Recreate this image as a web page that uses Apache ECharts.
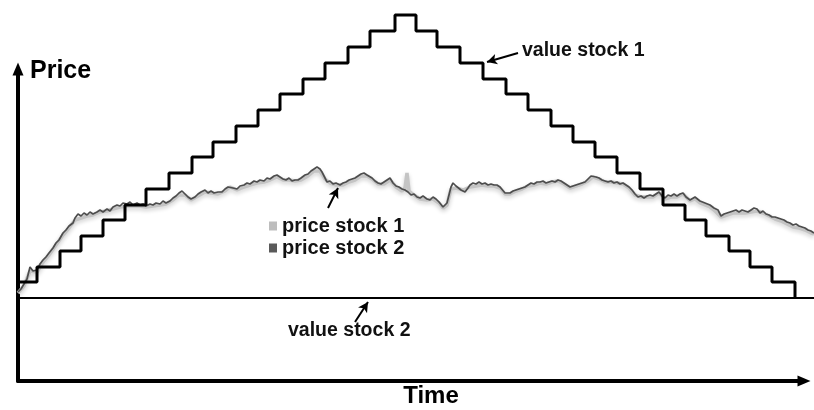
<!DOCTYPE html>
<html><head><meta charset="utf-8">
<script src="https://cdn.jsdelivr.net/npm/echarts@6/dist/echarts.min.js"></script>
<style>html,body{margin:0;padding:0;background:#fff}#c{width:814px;height:410px}</style>
</head><body><div id="c"></div>
<script>
// ---- data (time units, price units) ----
const stepTimes = [0,19,42,63,85,107,128,151,174,195,218,240,262,285,307,330,352,377,398,419,442,465,488,510,533,555,577,599,622,645,667,688,711,732,754,777];
const valueStock1 = [99,114,130,145,161,176,192,208,224,239,255,271,287,302,318,334,350,366,350,334,318,302,287,271,255,239,224,208,192,176,161,145,130,114,99,83];
const valueStock2Times = [0,796];
const valueStock2 = [83,83];

const priceTime2 = [0,3,6,9,12,15,19,22,25,28,31,35,38,41,45,48,51,55,57,60,63,66,69,72,75,79,82,85,89,92,95,99,102,105,109,112,115,119,122,125,128,132,
135,138,142,145,148,152,155,158,161,164,167,170,173,177,180,183,187,190,193,196,200,204,207,210,212,215,219,222,226,229,232,236,239,242,246,249,252,256,259,262,265,268,271,274,277,
280,283,287,290,293,296,299,302,304,307,309,312,315,318,322,325,328,331,334,337,340,343,346,349,351,354,357,360,363,366,369,372,375,378,381,384,387,390,393,396,399,402,405,409,412,415,418,
421,423,425,427,429,431,433,435,438,440,443,445,447,450,452,455,458,461,464,467,470,473,476,479,482,484,487,489,492,495,498,501,504,507,510,513,516,519,522,525,528,531,534,537,540,543,546,549,552,555,558,
561,564,567,570,573,575,578,581,584,587,590,593,596,599,602,605,608,611,614,617,620,623,626,629,632,635,638,641,644,647,650,653,656,659,662,665,668,672,677,682,687,692,696,
700,703,706,709,712,715,718,721,724,727,730,733,736,739,742,745,748,751,754,757,760,763,766,769,772,775,778,781,784,787,790,793,796];
const priceStock2 = [89,92,97,102,114,110,111,117,121,124,128,133,138,141,148,151,155,158,163,167,165,168,166,169,167,169,171,169,172,170,174,176,175,178,177,179,176,178,176,177,175,177,
176,178,177,180,178,180,183,185,188,190,187,184,182,184,187,189,191,188,190,188,189,189,192,194,196,193,192,195,196,198,197,200,199,201,200,203,202,205,206,204,202,201,203,200,201,
201,203,206,207,210,212,214,212,209,203,199,200,197,198,196,198,199,201,202,203,205,207,208,206,207,203,200,198,197,199,201,203,198,195,194,192,191,189,186,187,184,183,185,182,181,184,182,
179,177,174,176,178,186,194,198,195,193,191,193,189,193,196,198,197,199,197,198,196,197,196,196,194,193,188,186,188,190,191,192,193,194,196,198,197,199,199,200,198,199,200,199,201,200,198,196,194,195,196,
197,198,199,202,205,206,204,203,201,200,199,200,198,199,197,198,196,194,191,187,184,185,183,185,186,185,187,189,185,183,186,185,187,185,187,188,184,181,184,180,178,176,173,
171,165,167,168,169,170,171,169,171,170,169,171,173,172,168,170,167,166,164,164,163,162,161,159,158,156,157,155,154,153,151,150,148];

const priceTime1 = [0,6,12,19,25,31,38,45,51,57,63,69,75,82,89,95,102,109,115,122,128,135,142,148,155,161,167,173,180,187,193,200,207,212,219,226,232,239,246,252,259,265,271,277,283,290,296,302,307,312,318,325,331,337,343,349,354,360,366,372,378,384,387,389,391,396,402,409,415,421,425,429,433,438,445,452,458,464,470,476,482,487,492,498,504,510,516,522,528,534,540,546,552,558,564,570,575,581,587,593,599,605,611,617,623,629,635,641,647,653,659,665,672,677,682,687,692,696,703,709,715,721,727,733,739,745,751,757,763,769,775,781,787,793,796];
const priceStock1 = [88,95,110,109,119,126,136,146,153,161,163,165,166,169,170,172,174,175,175,175,174,175,176,177,181,186,186,181,185,189,188,187,190,194,191,194,196,198,199,201,204,201,201,200,201,205,210,210,202,198,196,196,199,201,205,205,202,197,197,201,194,190,193,208,190,186,182,181,182,178,173,176,192,193,191,194,195,196,195,195,193,187,187,190,192,195,196,198,197,199,200,197,193,195,197,200,204,202,199,199,198,197,193,186,184,184,184,188,182,184,184,187,180,182,178,176,174,171,164,166,168,168,168,169,170,168,165,162,160,157,154,153,151,148,147];

const seriesNames = ['price stock 1','price stock 2','value stock 1','value stock 2'];
// annotation arrows: [from, to] in data coordinates
const arrowFrom = [[500,328],[337,59],[310,173]];
const arrowTo   = [[469,319],[350,79],[320,193]];

// ---- chart ----
const F = '"Liberation Sans", Arial, Helvetica, sans-serif';
const pair = (ts, vs) => ts.map((t, i) => [t, vs[i]]);
const chart = echarts.init(document.getElementById('c'));
const hiddenAxis = {type:'value', show:false};
const arrowAxisLine = {show:true, onZero:false, symbol:['none','triangle'], symbolSize:[11,13], lineStyle:{color:'#000', width:4}};
chart.setOption({
  animation:false,
  backgroundColor:'#fff',
  grid:[{left:18,right:0,top:10,bottom:29},{left:18,right:10,top:69,bottom:29}],
  xAxis:[
    Object.assign({gridIndex:0, min:0, max:796}, hiddenAxis),
    {type:'value', gridIndex:1, min:0, max:1, axisLine:arrowAxisLine, axisTick:{show:false}, axisLabel:{show:false}, splitLine:{show:false}}
  ],
  yAxis:[
    Object.assign({gridIndex:0, min:0, max:371}, hiddenAxis),
    {type:'value', gridIndex:1, min:0, max:1, axisLine:arrowAxisLine, axisTick:{show:false}, axisLabel:{show:false}, splitLine:{show:false}}
  ],
  legend:{
    data:[seriesNames[0], seriesNames[1]],
    orient:'vertical', left:264, top:211, icon:'rect', itemWidth:8, itemHeight:9, itemGap:2,
    textStyle:{fontFamily:F, fontWeight:'bold', fontSize:20, color:'#111'},
    selectedMode:false
  },
  series:[
    {name:seriesNames[0], type:'line', xAxisIndex:0, yAxisIndex:0, data:pair(priceTime1, priceStock1), showSymbol:false, silent:true,
     itemStyle:{color:'#bdbdbd'}, lineStyle:{color:'#c4c4c4', width:3.5, shadowColor:'rgba(0,0,0,0.2)', shadowBlur:4, shadowOffsetY:2}},
    {name:seriesNames[1], type:'line', xAxisIndex:0, yAxisIndex:0, data:pair(priceTime2, priceStock2), showSymbol:false, silent:true,
     itemStyle:{color:'#5a5a5a'}, lineStyle:{color:'#4d4d4d', width:1.7}},
    {name:seriesNames[2], type:'line', step:'end', xAxisIndex:0, yAxisIndex:0, data:pair(stepTimes, valueStock1), showSymbol:false, silent:true,
     itemStyle:{color:'#000'}, lineStyle:{color:'#000', width:3}},
    {name:seriesNames[3], type:'line', xAxisIndex:0, yAxisIndex:0, data:pair(valueStock2Times, valueStock2), showSymbol:false, silent:true,
     itemStyle:{color:'#000'}, lineStyle:{color:'#000', width:2},
     markLine:{silent:true, symbol:['none','arrow'], symbolSize:[8,10], label:{show:false},
       lineStyle:{color:'#000', width:2, type:'solid'},
       data: arrowFrom.map((f, i) => [{coord:f}, {coord:arrowTo[i]}])}}
  ],
  graphic:[
    {type:'text', x:30, y:71, style:{text:'Price', font:'bold 25px ' + F, fill:'#000', verticalAlign:'middle'}},
    {type:'text', x:431, y:396, style:{text:'Time', font:'bold 24px ' + F, fill:'#000', align:'center', verticalAlign:'middle'}},
    {type:'text', x:522, y:51, style:{text:'value stock 1', font:'bold 19.5px ' + F, fill:'#111', verticalAlign:'middle'}},
    {type:'text', x:288, y:331, style:{text:'value stock 2', font:'bold 19.5px ' + F, fill:'#111', verticalAlign:'middle'}}
  ]
});
</script>
</body></html>
